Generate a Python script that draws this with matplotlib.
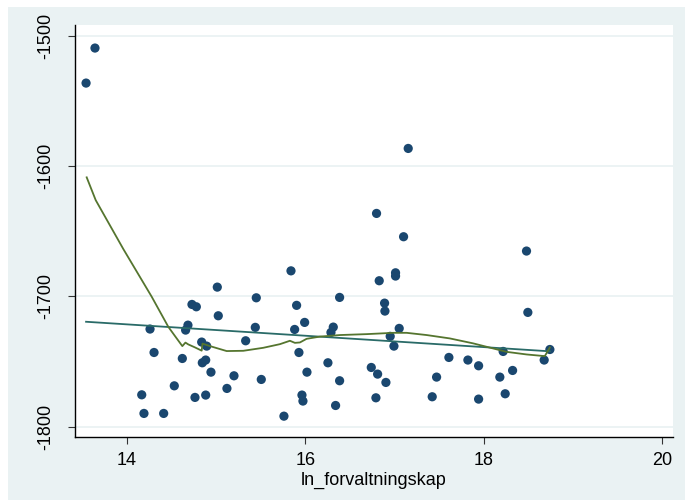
import matplotlib
matplotlib.use("Agg")
import matplotlib.pyplot as plt
from matplotlib.patches import Rectangle

# observasjoner
ln_forv = [13.541, 13.641, 14.165, 14.190, 14.258, 14.303, 14.411, 14.530, 14.620, 14.657,
           14.683, 14.728, 14.777, 14.762, 14.837, 14.844, 14.882, 14.882, 14.893, 14.941,
           15.012, 15.023, 15.120, 15.199, 15.330, 15.438, 15.449, 15.505, 15.759, 15.838,
           15.879, 15.901, 15.927, 15.961, 15.972, 15.991, 16.017, 16.252, 16.286, 16.312,
           16.338, 16.383, 16.383, 16.738, 16.790, 16.797, 16.809, 16.827, 16.887, 16.891,
           16.902, 16.950, 16.992, 17.010, 17.010, 17.051, 17.100, 17.152, 17.421, 17.470,
           17.608, 17.821, 17.941, 17.941, 18.179, 18.216, 18.239, 18.322, 18.478, 18.493,
           18.676, 18.740]
yvar = [-1536.1, -1509.2, -1775.5, -1789.8, -1725.0, -1743.0, -1789.8, -1768.6, -1747.6, -1725.8,
        -1722.0, -1706.1, -1707.9, -1777.5, -1735.0, -1750.9, -1748.8, -1775.7, -1738.1, -1758.1,
        -1692.8, -1714.8, -1770.6, -1760.9, -1734.0, -1723.7, -1701.0, -1763.7, -1791.9, -1680.3,
        -1725.3, -1706.8, -1743.0, -1775.7, -1780.3, -1719.9, -1758.1, -1750.9, -1727.6, -1723.5,
        -1783.7, -1700.7, -1764.7, -1754.5, -1777.8, -1636.2, -1759.6, -1687.9, -1705.1, -1711.2,
        -1766.0, -1730.6, -1738.1, -1681.8, -1684.3, -1724.5, -1654.1, -1586.3, -1777.0, -1761.9,
        -1746.8, -1748.8, -1753.2, -1778.8, -1761.9, -1742.2, -1774.7, -1756.8, -1665.1, -1712.2,
        -1748.8, -1740.7]

# lineær tilpasning (lfit)
lfit_x = [13.541, 18.740]
lfit_y = [-1719.4, -1742.1]

# lowess-kurve
low_x = [13.548, 13.649, 13.959, 14.277, 14.463, 14.538, 14.620, 14.655, 14.687, 14.762,
         14.837, 14.846, 14.930, 15.117, 15.303, 15.527, 15.714, 15.826, 15.882, 15.938,
         16.013, 16.162, 16.387, 16.686, 16.984, 17.134, 17.358, 17.619, 17.880, 18.104,
         18.254, 18.478, 18.683, 18.740]
low_y = [-1608.5, -1626.0, -1663.6, -1700.2, -1723.3, -1730.4, -1738.1, -1735.4, -1736.8, -1739.1,
         -1741.6, -1736.2, -1738.1, -1741.9, -1741.7, -1739.4, -1736.6, -1734.0, -1735.6, -1735.3,
         -1732.5, -1730.8, -1729.6, -1728.9, -1727.9, -1727.9, -1729.6, -1732.2, -1736.0, -1739.9,
         -1742.5, -1744.5, -1745.8, -1739.1]

xticks = [14, 16, 18, 20]
yticks = [-1800, -1700, -1600, -1500]

bg = "#EAF2F3"
plt.rcParams["font.family"] = ["Liberation Sans", "DejaVu Sans"]
plt.rcParams["axes.unicode_minus"] = False

fig = plt.figure(figsize=(6.85, 5), dpi=100, facecolor="white")
fig.patches.append(Rectangle((8 / 685, 0), 1, 1 - 7 / 500, transform=fig.transFigure,
                             facecolor=bg, edgecolor="none", zorder=-10))
ax = fig.add_axes([75 / 685, 63 / 500, 598 / 685, 412 / 500])
ax.set_zorder(1)
ax.set_facecolor("white")

for yt in yticks:
    ax.axhline(yt, color=bg, lw=1.3, zorder=1)

ax.scatter(ln_forv, yvar, s=44, color="#1A476F", edgecolors="none", zorder=3)
ax.plot(lfit_x, lfit_y, color="#2A6B68", lw=1.3, zorder=4)
ax.plot(low_x, low_y, color="#55752F", lw=1.3, zorder=5)

ax.set_xlim(13.417, 20.12)
ax.set_ylim(-1807.9, -1491.5)
ax.set_xticks(xticks)
ax.set_yticks(yticks)
ax.tick_params(axis="both", labelsize=13, length=5, width=0.8, color="#333333")
ax.tick_params(axis="x", pad=6)
ax.tick_params(axis="y", pad=10)
plt.setp(ax.get_yticklabels(), rotation=90, va="center")

for s in ["top", "right"]:
    ax.spines[s].set_visible(False)
for s in ["left", "bottom"]:
    ax.spines[s].set_linewidth(1.0)
    ax.spines[s].set_color("black")

ax.set_xlabel("ln_forvaltningskap", fontsize=13, labelpad=2)

fig.savefig("out.png", dpi=100, facecolor=fig.get_facecolor())
